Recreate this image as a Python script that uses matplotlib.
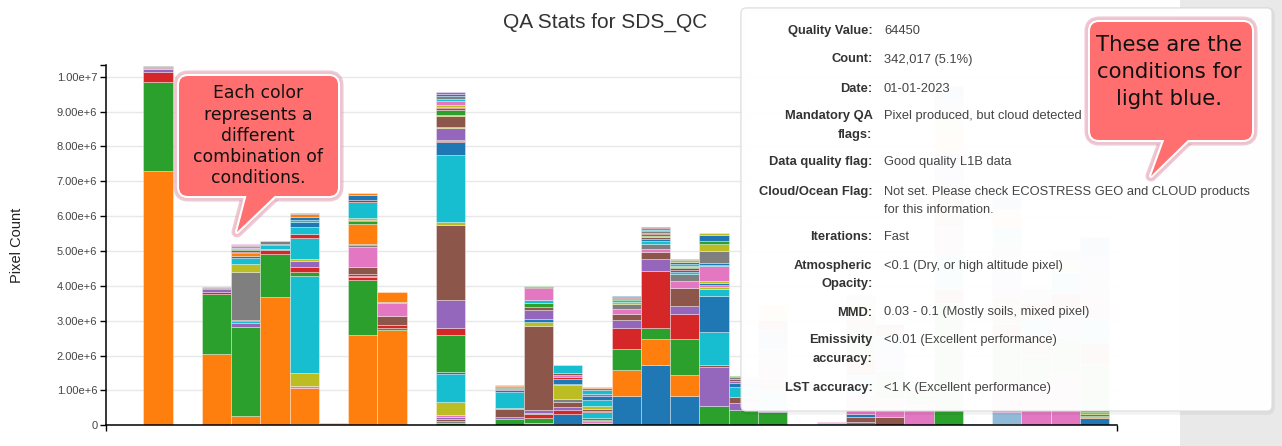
### QA stats stacked bar chart with hover tooltip and callouts
import numpy as np
import matplotlib.pyplot as plt
from matplotlib.patches import FancyBboxPatch, Polygon, Rectangle

# d3 category10 colours, plus the highlighted light blue
palette = {
    'b': '#1f77b4', 'o': '#ff7f0e', 'g': '#2ca02c', 'r': '#d62728', 'p': '#9467bd',
    'n': '#8c564b', 'k': '#e377c2', 'y': '#7f7f7f', 'l': '#bcbd22', 'c': '#17becf',
    'L': '#8fbbd9',
}

# date slot of every bar that has data (slots 1, 9, 11, 22 are empty)
bar_slot = [0, 2, 3, 4, 5, 6, 7, 8, 10, 12, 13, 14, 15, 16, 17, 18, 19, 20,
            21, 23, 24, 25, 26, 27, 28, 29, 30, 31, 32]

# stacked segments, bottom to top: (colour code, pixel count in millions)
bar_stacks = [
    [('o', 7.30), ('g', 2.56), ('r', .28), ('p', .07), ('k', .03), ('n', .04), ('y', .03)],
    [('o', 2.05), ('g', 1.71), ('r', .05), ('p', .09), ('n', .03), ('y', .03)],
    [('o', .28), ('g', 2.53), ('p', .12), ('c', .06), ('r', .04), ('y', 1.37), ('l', .24),
     ('c', .17), ('b', .06), ('o', .07), ('r', .04), ('n', .04), ('g', .05), ('c', .03),
     ('k', .03), ('y', .03), ('k', .03)],
    [('o', 3.69), ('g', 1.21), ('r', .12), ('y', .04), ('c', .12), ('b', .02), ('y', .08)],
    [('k', .05), ('o', 1.01), ('k', .07), ('l', .36), ('c', 2.79), ('g', .13), ('r', .14),
     ('p', .17), ('l', .04), ('c', .60), ('r', .14), ('c', .19), ('b', .14), ('c', .05),
     ('b', .10), ('o', .08), ('y', .03)],
    [('o', .05), ('r', .02), ('k', .01)],
    [('o', 2.58), ('g', 1.59), ('r', .08), ('p', .04), ('r', .04), ('n', .22), ('k', .56),
     ('y', .05), ('b', .04), ('o', .58), ('g', .07), ('r', .05), ('l', .05), ('c', .45),
     ('r', .06), ('b', .14), ('o', .05)],
    [('o', 2.72), ('g', .06), ('r', .10), ('n', .25), ('k', .37), ('c', .05), ('o', .27)],
    [('g', .08), ('y', .05), ('n', .06), ('p', .05), ('k', .05), ('l', .38), ('c', .79),
     ('b', .06), ('g', 1.08), ('r', .19), ('p', .79), ('n', 2.17), ('l', .08), ('c', 1.93),
     ('b', .36), ('r', .03), ('g', .04), ('p', .34), ('l', .03), ('n', .31), ('l', .04),
     ('g', .12), ('n', .07), ('r', .04), ('l', .06), ('k', .10), ('c', .05), ('y', .10),
     ('b', .05), ('p', .06)],
    [('g', .19), ('p', .05), ('n', .22), ('y', .03), ('c', .46), ('b', .05), ('p', .04),
     ('n', .03), ('g', .03), ('r', .03), ('o', .04)],
    [('l', .05), ('k', .03), ('g', .12), ('r', .12), ('y', .03), ('p', .08), ('n', 2.43),
     ('l', .09), ('b', .10), ('p', .25), ('n', .10), ('g', .10), ('c', .08), ('k', .36),
     ('n', .03), ('g', .02), ('r', .02)],
    [('c', .04), ('b', .29), ('r', .12), ('p', .07), ('n', .15), ('y', .09), ('l', .39),
     ('c', .04), ('b', .15), ('r', .05), ('k', .05), ('n', .06), ('c', .22)],
    [('g', .06), ('k', .05), ('n', .05), ('g', .05), ('c', .16), ('r', .05), ('n', .06),
     ('l', .07), ('c', .18), ('b', .12), ('p', .05), ('c', .12), ('y', .06), ('o', .02)],
    [('b', .83), ('o', .75), ('g', .62), ('r', .59), ('p', .24), ('n', .17), ('k', .13),
     ('y', .15), ('l', .05), ('c', .05), ('g', .04), ('r', .04), ('n', .03), ('b', .03)],
    [('b', 1.72), ('o', .76), ('g', .31), ('r', 1.63), ('p', .34), ('n', .21), ('k', .10),
     ('y', .14), ('c', .07), ('b', .05), ('n', .06), ('l', .04), ('g', .05), ('r', .04),
     ('y', .05), ('b', .03), ('c', .05), ('r', .05)],
    [('b', .83), ('o', .60), ('g', 1.05), ('r', .72), ('p', .22), ('n', .52), ('k', .19),
     ('y', .20), ('c', .07), ('b', .05), ('r', .05), ('g', .04), ('o', .04), ('c', .06),
     ('b', .05), ('l', .05), ('y', .03)],
    [('g', .55), ('p', 1.12), ('n', .05), ('c', .95), ('b', 1.05), ('c', .20), ('l', .05),
     ('k', .06), ('b', .05), ('l', .05), ('k', .43), ('c', .05), ('b', .05), ('y', .34),
     ('l', .20), ('g', .10), ('b', .15), ('l', .08)],
    [('g', .43), ('p', .22), ('n', .15), ('c', .30), ('b', .10), ('p', .08), ('n', .06),
     ('y', .05), ('g', .03)],
    [('g', .37), ('p', .05), ('c', .60), ('n', .30), ('k', .50), ('y', .40), ('b', .50),
     ('r', .30), ('l', .20), ('o', .22)],
    [('n', .05), ('c', .03), ('k', .01)],
    [('g', .03), ('p', .06), ('n', .14), ('y', .02), ('b', .08), ('k', .60), ('c', .50),
     ('r', .50), ('g', .80), ('n', .50), ('l', .30), ('y', .21), ('o', .03)],
    [('n', .25), ('k', .50), ('g', .80), ('p', .60), ('c', .40), ('r', .36)],
    [('k', .60), ('g', .30), ('n', .20), ('c', .10)],
    [('g', 3.50), ('r', .40), ('c', 1.00), ('k', .80), ('n', 1.20), ('p', .90), ('o', .60),
     ('l', .40), ('y', .50), ('b', .44)],
    [('L', .04)],
    [('c', .05), ('L', .342), ('k', .80), ('g', 1.20), ('r', .50), ('n', .80), ('p', .90),
     ('y', .60), ('c', .50), ('o', .50), ('b', .35)],
    [('k', 1.20), ('g', .80), ('n', .60), ('c', .50), ('r', .40), ('y', .42)],
    [('k', 1.50), ('g', 1.00), ('p', .80), ('r', .50), ('c', .60), ('l', .30), ('y', .31)],
    [('b', .20), ('o', .03), ('n', .03), ('g', .07), ('l', .04), ('g', 1.40), ('r', .60),
     ('c', .70), ('k', .70), ('y', .60), ('p', .50), ('b', .53)],
]

y_ticks = np.arange(0, 11) * 1e6
y_tick_labels = ['0', '1.00e+6', '2.00e+6', '3.00e+6', '4.00e+6', '5.00e+6',
                 '6.00e+6', '7.00e+6', '8.00e+6', '9.00e+6', '1.00e+7']

tip_labels = [['Quality Value:'], ['Count:'], ['Date:'], ['Mandatory QA', 'flags:'],
              ['Data quality flag:'], ['Cloud/Ocean Flag:'], ['Iterations:'],
              ['Atmospheric', 'Opacity:'], ['MMD:'], ['Emissivity', 'accuracy:'],
              ['LST accuracy:']]
tip_values = [['64450'], ['342,017 (5.1%)'], ['01-01-2023'],
              ['Pixel produced, but cloud detected'], ['Good quality L1B data'],
              ['Not set. Please check ECOSTRESS GEO and CLOUD products',
               'for this information.'],
              ['Fast'], ['<0.1 (Dry, or high altitude pixel)'],
              ['0.03 - 0.1 (Mostly soils, mixed pixel)'], ['<0.01 (Excellent performance)'],
              ['<1 K (Excellent performance)']]
tip_rows_y = [31, 59.5, 88.5, 116.5, 162.5, 191.5, 237.5, 265.5, 312.5, 340.5, 387.5]

note_left = ['Each color', 'represents a', 'different', 'combination of', 'conditions.']
note_right = ['These are the', 'conditions for', 'light blue.']

W, H = 1282, 446
fig = plt.figure(figsize=(W / 100, H / 100), dpi=100)
plt.rcParams['font.family'] = ['Liberation Sans', 'DejaVu Sans']

# main chart axes, placed in pixel terms
x0, x1, y_top, y_bot = 106, 1116.7, 65, 425.3
ax = fig.add_axes([x0 / W, 1 - y_bot / H, (x1 - x0) / W, (y_bot - y_top) / H])

for slot, stack in zip(bar_slot, bar_stacks):
    codes = [s[0] for s in stack]
    counts = np.array([s[1] for s in stack]) * 1e6
    bottoms = np.concatenate([[0], np.cumsum(counts)[:-1]])
    ax.bar(np.full(len(counts), slot + 0.5), counts, width=1, bottom=bottoms,
           color=[palette[c] for c in codes], edgecolor=(1, 1, 1, 0.35),
           linewidth=0.7, zorder=2)

ax.set_xlim(-1.274, 33.256)
ax.set_ylim(0, 10.335e6)
ax.set_yticks(y_ticks)
ax.set_yticklabels(y_tick_labels, fontsize=8, color='#444444')
ax.set_yticks([10.335e6], minor=True)
ax.set_xticks([-1.274, 33.256])
ax.set_xticklabels(['', ''])
ax.tick_params(axis='both', which='both', direction='out', length=4.3, width=1,
               color='black', pad=2)
ax.grid(axis='y', color='#e8e8e8', linewidth=1, zorder=0)
ax.set_axisbelow(True)
for side in ['top', 'right']:
    ax.spines[side].set_visible(False)
for side in ['left', 'bottom']:
    ax.spines[side].set_linewidth(1.1)

fig.text(605 / W, 1 - 27.5 / H, 'QA Stats for SDS_QC', ha='center', va='baseline',
         fontsize=15, color='#333333')
fig.text(17 / W, 1 - 245 / H, 'Pixel Count', rotation=90, ha='center', va='center',
         fontsize=10.5, color='#222222')

# overlay in pixel coordinates for the panel, tooltip and callouts
ov = fig.add_axes([0, 0, 1, 1], zorder=5)
ov.set_xlim(0, W)
ov.set_ylim(H, 0)
ov.axis('off')
ov.patch.set_alpha(0)

ov.add_patch(Rectangle((1180, 0), W - 1180, H, facecolor='#e9e9e9', edgecolor='none', zorder=1))

# tooltip box
ov.add_patch(FancyBboxPatch((743, 10), 529, 402, boxstyle='round,pad=0,rounding_size=5',
                            facecolor='none', edgecolor=(0, 0, 0, 0.05), linewidth=4, zorder=2))
ov.add_patch(FancyBboxPatch((741, 8), 531, 403, boxstyle='round,pad=0,rounding_size=5',
                            facecolor=(1, 1, 1, 0.982), edgecolor='#dddddd', linewidth=0.8,
                            zorder=3))
for labels, values, yy in zip(tip_labels, tip_values, tip_rows_y):
    for i, t in enumerate(labels):
        ov.text(872.5, yy + i * 18.5, t, ha='right', va='center', fontsize=9.3,
                fontweight='bold', color='#333333', zorder=4)
    for i, t in enumerate(values):
        ov.text(884, yy + i * 18.5, t, ha='left', va='center', fontsize=9.3,
                color='#444444', zorder=4)


def callout(box, tail, lines, cx, line_ys, size):
    bx, by, bw, bh = box
    shapes = lambda: [FancyBboxPatch((bx, by), bw, bh, boxstyle='round,pad=0,rounding_size=9'),
                      Polygon(tail, closed=True)]
    # pink glow, white rim, then the fill on top
    for ec, lw, z in [((0.86, 0.55, 0.62, 0.45), 8, 6), ((0.93, 0.75, 0.8, 1), 5.5, 7),
                      ('white', 3, 8)]:
        for p in shapes():
            p.set_facecolor(ec)
            p.set_edgecolor(ec)
            p.set_linewidth(lw)
            p.set_joinstyle('round')
            p.set_zorder(z)
            ov.add_patch(p)
    for p in shapes():
        p.set_facecolor('#ff6f6f')
        p.set_edgecolor('none')
        p.set_zorder(9)
        ov.add_patch(p)
    for t, yy in zip(lines, line_ys):
        ov.text(cx, yy, t, ha='center', va='center', fontsize=size,
                family='DejaVu Sans', color='#111111', zorder=10)


callout((179, 76, 159, 120), [(248, 190), (281, 190), (237, 232)], note_left, 258,
        [93.3, 115, 136, 157.3, 178.3], 12.4)
callout((1090, 22, 162, 118), [(1166, 135), (1193, 135), (1151, 176)], note_right, 1169,
        [45, 72.3, 99.3], 15.3)

plt.savefig('out.png', dpi=100)
